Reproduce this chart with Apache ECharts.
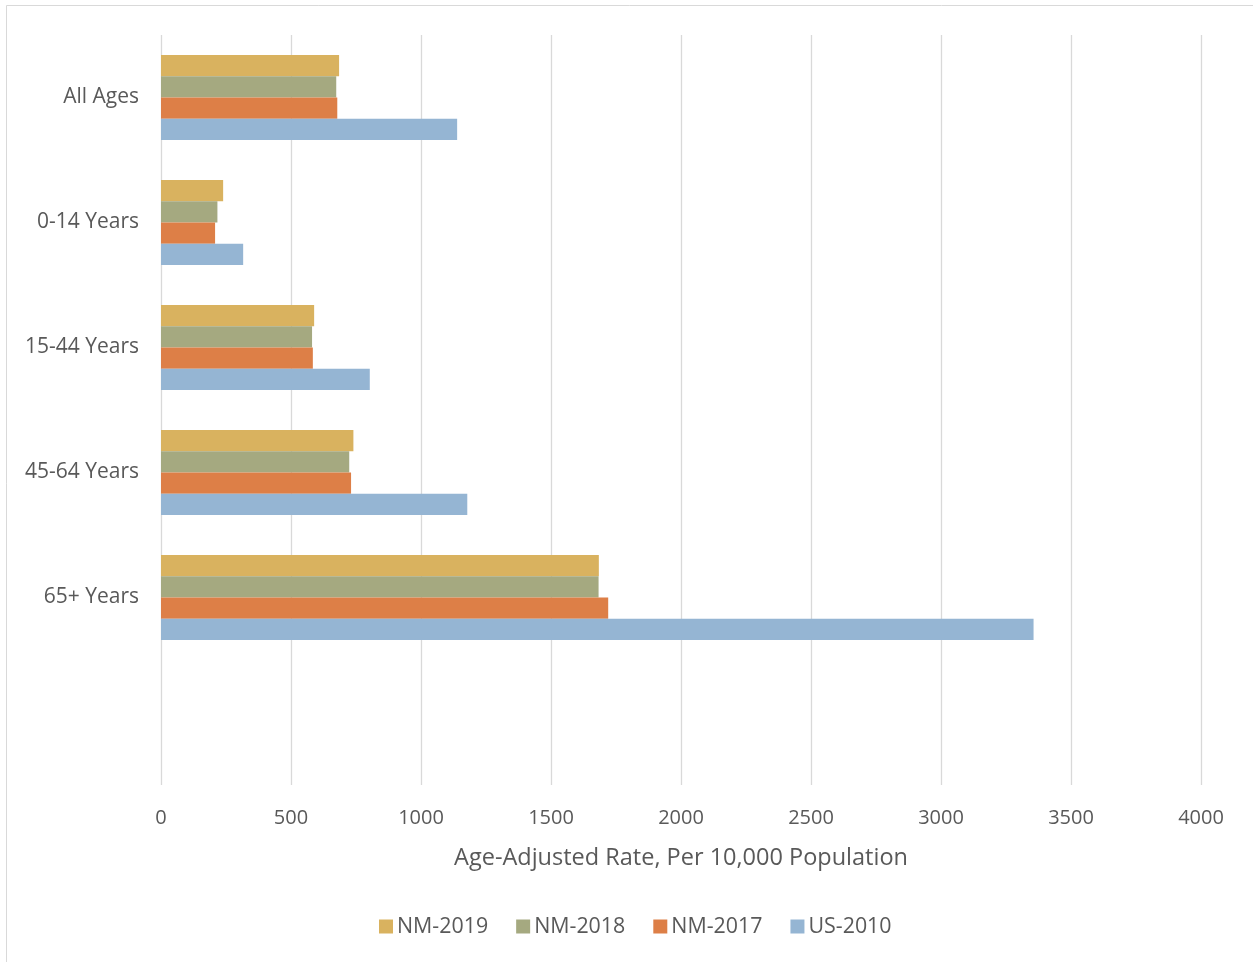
<!DOCTYPE html>
<html>
<head>
<meta charset="utf-8">
<script src="https://cdn.jsdelivr.net/npm/echarts@6/dist/echarts.min.js"></script>
<style>
  html, body { margin: 0; padding: 0; background: #ffffff; }
  #chart { width: 1253px; height: 962px; }
</style>
</head>
<body>
<div id="chart"></div>
<script>
// Age groups (the last slot is left blank, as in the layout of the original chart)
const categories = ['All Ages', '0-14 Years', '15-44 Years', '45-64 Years', '65+ Years', ''];
const seriesNames = ['NM-2019', 'NM-2018', 'NM-2017', 'US-2010'];
// Age-adjusted rate per 10,000 population
const nm2019 = [685, 239, 589, 740, 1684];
const nm2018 = [674, 217, 581, 724, 1683];
const nm2017 = [678, 208, 584, 731, 1720];
const us2010 = [1139, 316, 803, 1178, 3356];
const xTicks = { min: 0, max: 4000, interval: 500 };

const colors = ['#D9B25F', '#A5A980', '#DD7F47', '#95B5D3'];
const textColor = '#595959';
const font = '"Open Sans", "Noto Sans", sans-serif';

const values = [nm2019, nm2018, nm2017, us2010];

const chart = echarts.init(document.getElementById('chart'), null, { renderer: 'canvas' });

chart.setOption({
  animation: false,
  backgroundColor: '#ffffff',
  textStyle: { fontFamily: font, color: textColor },
  color: colors,
  graphic: [{
    type: 'polyline',
    shape: { points: [[6.5, 962], [6.5, 5.5], [1253, 5.5]] },
    style: { stroke: '#d9d9d9', lineWidth: 1, fill: null }
  }],
  grid: { left: 161, right: 52, top: 35, bottom: 177, containLabel: false },
  legend: {
    left: 374,
    top: 911,
    itemWidth: 14,
    itemHeight: 14,
    itemGap: 28,
    icon: 'rect',
    textStyle: { fontFamily: font, fontSize: 21.4, color: textColor, padding: [0, 0, 0, -1] },
    data: seriesNames
  },
  xAxis: {
    type: 'value',
    min: xTicks.min,
    max: xTicks.max,
    interval: xTicks.interval,
    name: 'Age-Adjusted Rate, Per 10,000 Population',
    nameLocation: 'middle',
    nameGap: 61,
    nameTextStyle: { fontFamily: font, fontSize: 23.5, color: textColor },
    axisLine: { show: false },
    axisTick: { show: false },
    axisLabel: {
      fontFamily: font, fontSize: 20, color: textColor, margin: 23,
      formatter: (v) => String(v)
    },
    splitLine: { show: true, lineStyle: { color: '#d9d9d9', width: 1.3 } }
  },
  yAxis: {
    type: 'category',
    data: categories,
    inverse: true,
    axisLine: { show: false },
    axisTick: { show: false },
    axisLabel: { fontFamily: font, fontSize: 21, color: textColor, margin: 22, padding: [5, 0, 0, 0] },
    splitLine: { show: false }
  },
  series: seriesNames.map((name, i) => ({
    name: name,
    type: 'bar',
    data: values[i],
    barGap: '0%',
    barCategoryGap: '32%',
    itemStyle: { color: colors[i] }
  }))
});
</script>
</body>
</html>
